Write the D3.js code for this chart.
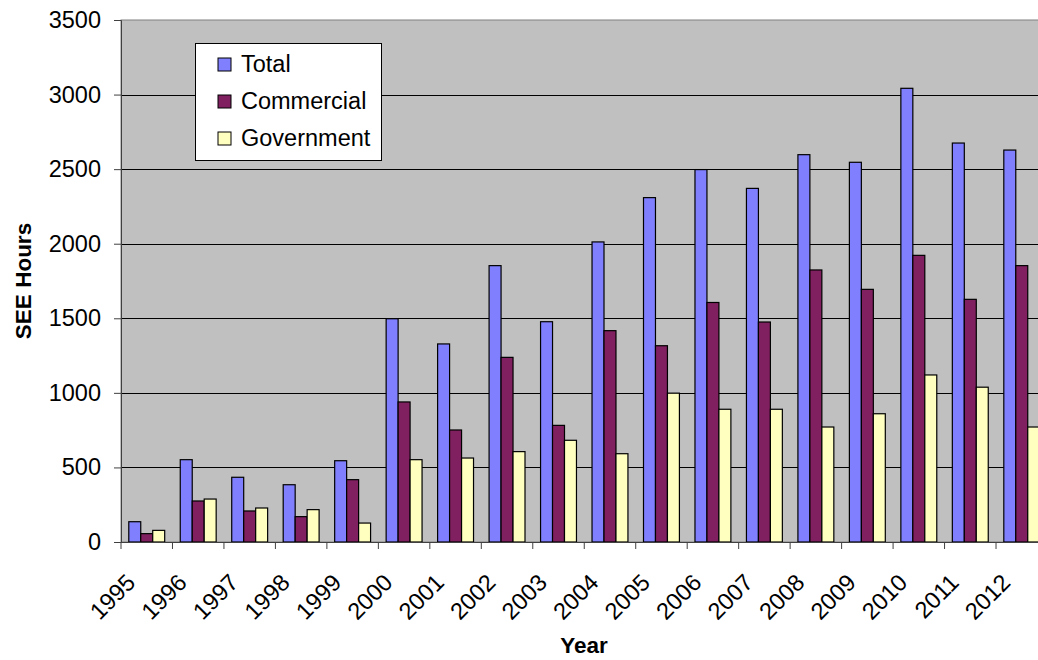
<!DOCTYPE html>
<html>
<head>
<meta charset="utf-8">
<script src="https://cdn.jsdelivr.net/npm/d3@7"></script>
<style>
  body { margin: 0; background: #fff; }
  svg { display: block; font-family: "Liberation Sans", Arial, sans-serif; }
</style>
</head>
<body>
<div id="chart"></div>
<script>
// data
const years = ["1995","1996","1997","1998","1999","2000","2001","2002","2003",
               "2004","2005","2006","2007","2008","2009","2010","2011","2012"];
const total      = [136, 552, 434, 384, 545, 1497, 1328, 1853, 1477, 2012, 2309, 2497, 2371, 2597, 2546, 3042, 2675, 2628];
const commercial = [56, 275, 208, 170, 418, 939, 751, 1238, 782, 1417, 1316, 1606, 1475, 1824, 1694, 1922, 1627, 1853];
const government = [78, 288, 228, 217, 127, 552, 563, 606, 682, 592, 998, 890, 890, 771, 860, 1120, 1038, 771];
const seriesNames = ["Total", "Commercial", "Government"];
const yTicks = [0, 500, 1000, 1500, 2000, 2500, 3000, 3500];

// setting up constants
const FRAME_WIDTH = 1038;
const FRAME_HEIGHT = 660;
const PLOT = {left: 121, right: 1047.5, top: 20, bottom: 542};
const COLORS = {Total: "#8080ff", Commercial: "#802060", Government: "#ffffc0"};
const FONT_SIZE = 23.5;
const TITLE_SIZE = 22.5;

const svg = d3.select("#chart")
  .append("svg")
  .attr("width", FRAME_WIDTH)
  .attr("height", FRAME_HEIGHT);

const x0 = d3.scaleBand()
  .domain(years)
  .range([PLOT.left, PLOT.right])
  .padding(0);

const x1 = d3.scaleBand()
  .domain(seriesNames)
  .range([0, x0.bandwidth()])
  .paddingInner(0)
  .paddingOuter(0.65);

const y = d3.scaleLinear()
  .domain([0, 3500])
  .range([PLOT.bottom, PLOT.top]);

// plot background
svg.append("rect")
  .attr("x", PLOT.left)
  .attr("y", PLOT.top)
  .attr("width", PLOT.right - PLOT.left)
  .attr("height", PLOT.bottom - PLOT.top)
  .attr("fill", "#c0c0c0")
  .attr("stroke", "#808080")
  .attr("stroke-width", 1);

// gridlines
svg.append("g")
  .selectAll("line")
  .data(yTicks.filter(d => d > 0 && d < 3500))
  .join("line")
  .attr("x1", PLOT.left)
  .attr("x2", PLOT.right)
  .attr("y1", d => Math.round(y(d)) + 0.5)
  .attr("y2", d => Math.round(y(d)) + 0.5)
  .attr("stroke", "#000")
  .attr("stroke-width", 1);

// bars
const rows = years.map((yr, i) => ({
  year: yr,
  values: [
    {key: "Total", value: total[i]},
    {key: "Commercial", value: commercial[i]},
    {key: "Government", value: government[i]}
  ]
}));

svg.append("g")
  .selectAll("g")
  .data(rows)
  .join("g")
  .attr("transform", d => `translate(${x0(d.year)},0)`)
  .selectAll("rect")
  .data(d => d.values)
  .join("rect")
  .attr("x", d => x1(d.key))
  .attr("y", d => y(d.value))
  .attr("width", x1.bandwidth())
  .attr("height", d => y(0) - y(d.value))
  .attr("fill", d => COLORS[d.key])
  .attr("stroke", "#000")
  .attr("stroke-width", 1.2);

// y axis
const yAxis = svg.append("g")
  .attr("transform", `translate(${PLOT.left},0)`)
  .call(d3.axisLeft(y).tickValues(yTicks).tickFormat(d3.format("d")).tickSize(7).tickPadding(13));
yAxis.select(".domain").attr("stroke", "#404040");
yAxis.selectAll(".tick line").attr("stroke", "#404040");
yAxis.selectAll("text")
  .attr("font-size", FONT_SIZE)
  .attr("fill", "#000")
  .attr("font-family", "Liberation Sans, Arial, sans-serif");

// x axis: ticks at category boundaries
const xAxis = svg.append("g");
xAxis.append("line")
  .attr("x1", PLOT.left)
  .attr("x2", PLOT.right)
  .attr("y1", PLOT.bottom + 0.5)
  .attr("y2", PLOT.bottom + 0.5)
  .attr("stroke", "#404040");
xAxis.selectAll("line.tk")
  .data(years)
  .join("line")
  .attr("class", "tk")
  .attr("x1", d => x0(d))
  .attr("x2", d => x0(d))
  .attr("y1", PLOT.bottom)
  .attr("y2", PLOT.bottom + 7)
  .attr("stroke", "#404040");
xAxis.selectAll("text")
  .data(years)
  .join("text")
  .attr("transform", d => `translate(${x0(d) + x0.bandwidth() / 2 - 10},${PLOT.bottom + 42}) rotate(-45)`)
  .attr("text-anchor", "end")
  .attr("font-size", FONT_SIZE)
  .text(d => d);

// axis titles
svg.append("text")
  .attr("x", 584)
  .attr("y", 653)
  .attr("text-anchor", "middle")
  .attr("font-size", TITLE_SIZE)
  .attr("font-weight", "bold")
  .text("Year");

svg.append("text")
  .attr("transform", `translate(31,${(PLOT.top + PLOT.bottom) / 2}) rotate(-90)`)
  .attr("text-anchor", "middle")
  .attr("font-size", TITLE_SIZE)
  .attr("font-weight", "bold")
  .text("SEE Hours");

// legend
const legend = svg.append("g").attr("transform", "translate(195,43)");
legend.append("rect")
  .attr("x", 0.5)
  .attr("y", 0.5)
  .attr("width", 186)
  .attr("height", 117)
  .attr("fill", "#fff")
  .attr("stroke", "#000");
const item = legend.selectAll("g.item")
  .data(seriesNames)
  .join("g")
  .attr("class", "item")
  .attr("transform", (d, i) => `translate(0,${21 + i * 37})`);
item.append("rect")
  .attr("x", 23)
  .attr("y", -6)
  .attr("width", 13)
  .attr("height", 13)
  .attr("fill", d => COLORS[d])
  .attr("stroke", "#000");
item.append("text")
  .attr("x", 46)
  .attr("y", 8)
  .attr("font-size", FONT_SIZE)
  .text(d => d);
</script>
</body>
</html>
